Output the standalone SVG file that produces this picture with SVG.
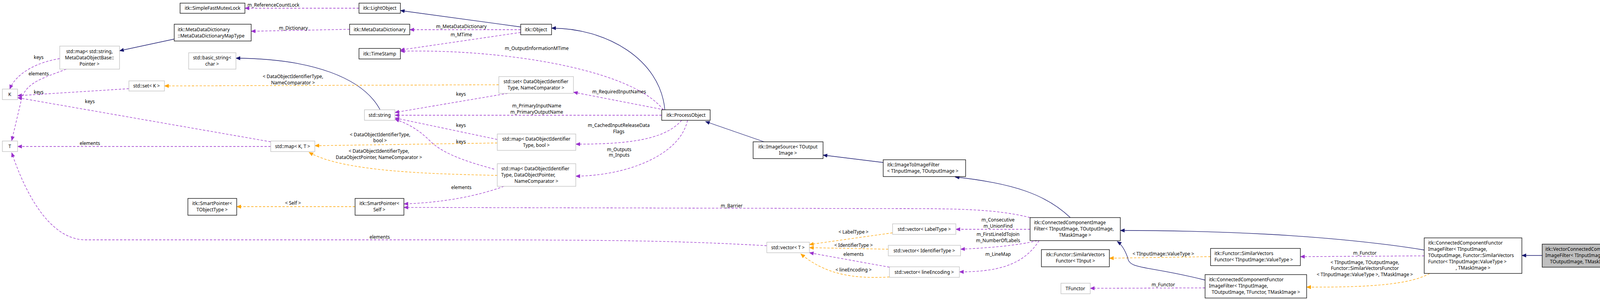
<svg xmlns="http://www.w3.org/2000/svg" width="4165" height="768" viewBox="0 0 4165 768">
<style>
text{font-family:"Noto Sans","DejaVu Sans",sans-serif;font-size:12px;fill:#000}
.c{text-anchor:middle}
.n rect{fill:#fff;stroke:#000;stroke-width:1.3}
.g rect{fill:#fff;stroke:#bfbfbf;stroke-width:1.3}
.e path{fill:none;stroke-width:1.3}
.inh{stroke:#191970;marker-end:url(#an)}
.use{stroke:#9a32cd;stroke-dasharray:6,4;marker-end:url(#ap)}
.tpl{stroke:#ffa500;stroke-dasharray:6,4;marker-end:url(#ao)}
</style>
<defs>
<marker id="an" markerWidth="12" markerHeight="10" refX="11" refY="5" orient="auto" markerUnits="userSpaceOnUse"><path d="M0,0 L12,5 L0,10 Z" fill="#191970"/></marker>
<marker id="ap" markerWidth="12" markerHeight="10" refX="11" refY="5" orient="auto" markerUnits="userSpaceOnUse"><path d="M0,0 L12,5 L0,10 Z" fill="#9a32cd"/></marker>
<marker id="ao" markerWidth="12" markerHeight="10" refX="11" refY="5" orient="auto" markerUnits="userSpaceOnUse"><path d="M0,0 L12,5 L0,10 Z" fill="#ffa500"/></marker>
</defs>
<rect width="4165" height="768" fill="#fff"/>
<g id="edges" class="e">
<path class="use" d="M919,21 L627,21"/>
<path class="use" d="M895,75 L643,80"/>
<path class="inh" d="M446,100 L306,130"/>
<path class="inh" d="M1333,69 L1025,27"/>
<path class="use" d="M1333,76 L1049,76"/>
<path class="use" d="M1333,83 L1025,128"/>
<path class="inh" d="M1702,281 C1690,150 1550,72 1412,72"/>
<path class="use" d="M1698,281 C1620,180 1300,125 1025,131"/>
<path class="inh" d="M973,281 C930,200 800,150 604,149"/>
<path class="use" d="M153,150 C90,160 40,190 25,228"/>
<path class="use" d="M170,177 C110,200 70,210 56,250 L30,360"/>
<path class="use" d="M330,227 L45,245"/>
<path class="use" d="M693,363 L45,250"/>
<path class="use" d="M693,375 L45,375"/>
<path class="tpl" d="M1277,217 L421,220"/>
<path class="use" d="M1300,239 L1011,288"/>
<path class="use" d="M1700,281 L1468,236"/>
<path class="use" d="M1694,295 L1011,295"/>
<path class="use" d="M1273,357 L1011,302"/>
<path class="tpl" d="M1273,366 L806,373"/>
<path class="use" d="M1745,308 C1700,360 1600,369 1474,369"/>
<path class="use" d="M1265,433 C1180,410 1130,390 1100,360 C1070,330 1040,315 1011,305"/>
<path class="tpl" d="M1273,449 C1100,445 880,440 791,390"/>
<path class="use" d="M1760,308 C1740,400 1600,450 1474,451"/>
<path class="use" d="M1290,477 C1200,510 1100,520 1034,522"/>
<path class="use" d="M2637,557 C2550,535 2450,534 2300,534 L1034,531"/>
<path class="tpl" d="M909,529 L606,529"/>
<path class="inh" d="M1956,363 L1806,311"/>
<path class="inh" d="M2261,416 L2107,397"/>
<path class="inh" d="M2740,557 C2680,500 2600,470 2445,453"/>
<path class="use" d="M2637,587 L2447,587"/>
<path class="use" d="M2655,616 C2600,630 2520,635 2459,638"/>
<path class="use" d="M2660,616 C2620,680 2550,696 2456,696"/>
<path class="tpl" d="M2285,596 L2072,626"/>
<path class="tpl" d="M2274,638 L2072,634"/>
<path class="use" d="M2277,684 L2072,647"/>
<path class="tpl" d="M2277,709 C2180,715 2110,700 2050,650"/>
<path class="use" d="M1963,629 C1700,614 1500,614 1000,614 L215,614 C120,610 60,480 30,391"/>
<path class="inh" d="M3948,654 L3896,654"/>
<path class="inh" d="M3646,640 C3400,600 3100,590 2868,590"/>
<path class="use" d="M3646,655 L3329,657"/>
<path class="tpl" d="M3660,700 C3600,735 3450,735 3345,735"/>
<path class="tpl" d="M3099,657 L2840,661"/>
<path class="inh" d="M3085,717 C2940,680 2890,690 2887,660 C2880,640 2870,625 2860,618"/>
<path class="use" d="M3085,737 L2791,738"/>
</g>
<g id="edge-labels" class="c">
<text x="700" y="17">m_ReferenceCountLock</text>
<text x="751" y="76">m_Dictionary</text>
<text x="1181" y="72">m_MetaDataDictionary</text>
<text x="1181" y="93">m_MTime</text>
<text x="1374" y="128">m_OutputInformationMTime</text>
<text x="99" y="151">keys</text>
<text x="99" y="193">elements</text>
<text x="99" y="240">keys</text>
<text x="230" y="264">keys</text>
<text x="230" y="371">elements</text>
<text x="750" y="200">&lt; DataObjectIdentifierType,</text>
<text x="750" y="216">NameComparator &gt;</text>
<text x="1180" y="245">keys</text>
<text x="1585" y="239">m_RequiredInputNames</text>
<text x="1374" y="275">m_PrimaryInputName</text>
<text x="1374" y="291">m_PrimaryOutputName</text>
<text x="1180" y="325">keys</text>
<text x="1584" y="325">m_CachedInputReleaseData</text>
<text x="1584" y="341">Flags</text>
<text x="973" y="349">&lt; DataObjectIdentifierType,</text>
<text x="973" y="364">bool &gt;</text>
<text x="1180" y="367">keys</text>
<text x="970" y="391">&lt; DataObjectIdentifierType,</text>
<text x="970" y="407">DataObjectPointer, NameComparator &gt;</text>
<text x="1585" y="387">m_Outputs</text>
<text x="1585" y="401">m_Inputs</text>
<text x="1181" y="484">elements</text>
<text x="750" y="524">&lt; Self &gt;</text>
<text x="1873" y="531">m_Barrier</text>
<text x="972" y="611">elements</text>
<text x="2555" y="567">m_Consecutive</text>
<text x="2555" y="583">m_UnionFind</text>
<text x="2555" y="604">m_FirstLineIdToJoin</text>
<text x="2555" y="620">m_NumberOfLabels</text>
<text x="2555" y="655">m_LineMap</text>
<text x="2185" y="598">&lt; LabelType &gt;</text>
<text x="2185" y="632">&lt; IdentifierType &gt;</text>
<text x="2185" y="655">elements</text>
<text x="2185" y="695">&lt; lineEncoding &gt;</text>
<text x="2978" y="654">&lt; TInputImage::ValueType &gt;</text>
<text x="3494" y="652">m_Functor</text>
<text x="3494" y="676">&lt; TInputImage, TOutputImage,</text>
<text x="3494" y="691">Functor::SimilarVectorsFunctor</text>
<text x="3494" y="707">&lt; TInputImage::ValueType &gt;, TMaskImage &gt;</text>
<text x="2978" y="733">m_Functor</text>
</g>
<g id="n-sfml" class="n"><rect x="461" y="8" width="166" height="26"/><text class="c" x="544" y="25">itk::SimpleFastMutexLock</text></g>
<g id="n-lightobject" class="n"><rect x="919" y="8" width="106" height="26"/><text class="c" x="972" y="25">itk::LightObject</text></g>
<g id="n-mdd" class="n"><rect x="895" y="62" width="154" height="27"/><text class="c" x="972" y="80">itk::MetaDataDictionary</text></g>
<g id="n-mddmap" class="n"><rect x="446" y="62" width="197" height="43"/><text x="455" y="80">itk::MetaDataDictionary</text><text x="455" y="96">::MetaDataDictionaryMapType</text></g>
<g id="n-object" class="n"><rect x="1333" y="62" width="79" height="27"/><text class="c" x="1372" y="80">itk::Object</text></g>
<g id="n-timestamp" class="n"><rect x="919" y="124" width="106" height="27"/><text class="c" x="972" y="142">itk::TimeStamp</text></g>
<g id="n-mapstr" class="g"><rect x="153" y="118" width="153" height="59"/><text class="c" x="229" y="136">std::map&lt; std::string,</text><text class="c" x="229" y="152">MetaDataObjectBase::</text><text class="c" x="229" y="168">Pointer &gt;</text></g>
<g id="n-basicstring" class="g"><rect x="483" y="135" width="121" height="42"/><text class="c" x="543" y="152">std::basic_string&lt;</text><text class="c" x="543" y="168">char &gt;</text></g>
<g id="n-setk" class="g"><rect x="330" y="207" width="91" height="26"/><text class="c" x="375" y="224">std::set&lt; K &gt;</text></g>
<g id="n-k" class="g"><rect x="6" y="228" width="39" height="27"/><text class="c" x="25" y="246">K</text></g>
<g id="n-t" class="g"><rect x="6" y="361" width="39" height="27"/><text class="c" x="25" y="379">T</text></g>
<g id="n-setdo" class="g"><rect x="1277" y="196" width="191" height="43"/><text class="c" x="1372" y="213">std::set&lt; DataObjectIdentifier</text><text class="c" x="1372" y="229">Type, NameComparator &gt;</text></g>
<g id="n-string" class="g"><rect x="933" y="281" width="78" height="27"/><text class="c" x="972" y="299">std::string</text></g>
<g id="n-processobject" class="n"><rect x="1694" y="281" width="124" height="27"/><text class="c" x="1756" y="299">itk::ProcessObject</text></g>
<g id="n-mapbool" class="g"><rect x="1273" y="343" width="201" height="42"/><text class="c" x="1373" y="360">std::map&lt; DataObjectIdentifier</text><text class="c" x="1373" y="376">Type, bool &gt;</text></g>
<g id="n-mapkt" class="g"><rect x="693" y="361" width="113" height="27"/><text class="c" x="749" y="379">std::map&lt; K, T &gt;</text></g>
<g id="n-mapdop" class="g"><rect x="1273" y="419" width="201" height="58"/><text x="1283" y="436">std::map&lt; DataObjectIdentifier</text><text x="1283" y="452">Type, DataObjectPointer,</text><text class="c" x="1373" y="468">NameComparator &gt;</text></g>
<g id="n-imagesource" class="n"><rect x="1928" y="363" width="179" height="43"/><text class="c" x="2017" y="380">itk::ImageSource&lt; TOutput</text><text class="c" x="2017" y="396">Image &gt;</text></g>
<g id="n-sptobj" class="n"><rect x="481" y="508" width="125" height="43"/><text class="c" x="543" y="525">itk::SmartPointer&lt;</text><text class="c" x="543" y="541">TObjectType &gt;</text></g>
<g id="n-spself" class="n"><rect x="909" y="508" width="125" height="43"/><text class="c" x="971" y="525">itk::SmartPointer&lt;</text><text class="c" x="971" y="541">Self &gt;</text></g>
<g id="n-i2i" class="n"><rect x="2261" y="409" width="211" height="43"/><text x="2271" y="426">itk::ImageToImageFilter</text><text x="2271" y="442">&lt; TInputImage, TOutputImage &gt;</text></g>
<g id="n-ccif" class="n"><rect x="2637" y="557" width="231" height="59"/><text x="2647" y="574">itk::ConnectedComponentImage</text><text x="2647" y="590">Filter&lt; TInputImage, TOutputImage,</text><text class="c" x="2752" y="606">TMaskImage &gt;</text></g>
<g id="n-veclabel" class="g"><rect x="2285" y="573" width="162" height="27"/><text class="c" x="2366" y="591">std::vector&lt; LabelType &gt;</text></g>
<g id="n-vect" class="g"><rect x="1963" y="620" width="109" height="27"/><text class="c" x="2017" y="638">std::vector&lt; T &gt;</text></g>
<g id="n-vecid" class="g"><rect x="2274" y="628" width="185" height="27"/><text class="c" x="2366" y="646">std::vector&lt; IdentifierType &gt;</text></g>
<g id="n-vecline" class="g"><rect x="2277" y="683" width="179" height="27"/><text class="c" x="2366" y="701">std::vector&lt; lineEncoding &gt;</text></g>
<g id="n-svftinput" class="n"><rect x="2666" y="639" width="174" height="44"/><text class="c" x="2753" y="656">itk::Functor::SimilarVectors</text><text class="c" x="2753" y="672">Functor&lt; TInput &gt;</text></g>
<g id="n-tfunctor" class="g"><rect x="2716" y="725" width="75" height="27"/><text class="c" x="2753" y="743">TFunctor</text></g>
<g id="n-svfvt" class="n"><rect x="3099" y="636" width="230" height="44"/><text x="3109" y="653">itk::Functor::SimilarVectors</text><text x="3109" y="669">Functor&lt; TInputImage::ValueType &gt;</text></g>
<g id="n-ccfif" class="n"><rect x="3646" y="609" width="250" height="91"/><text x="3656" y="626">itk::ConnectedComponentFunctor</text><text x="3656" y="642">ImageFilter&lt; TInputImage,</text><text x="3656" y="658">TOutputImage, Functor::SimilarVectors</text><text x="3656" y="674">Functor&lt; TInputImage::ValueType &gt;</text><text class="c" x="3771" y="690">, TMaskImage &gt;</text></g>
<g id="n-ccfift" class="n"><rect x="3085" y="703" width="260" height="60"/><text x="3095" y="720">itk::ConnectedComponentFunctor</text><text x="3095" y="736">ImageFilter&lt; TInputImage,</text><text class="c" x="3215" y="752">TOutputImage, TFunctor, TMaskImage &gt;</text></g>
<g id="n-vector" class="n"><rect x="3948" y="625" width="212" height="59" style="fill:#bfbfbf"/><text x="3956" y="642">itk::VectorConnectedComponent</text><text x="3956" y="658">ImageFilter&lt; TInputImage,</text><text class="c" x="4054" y="674">TOutputImage, TMaskImage &gt;</text></g>
</svg>
